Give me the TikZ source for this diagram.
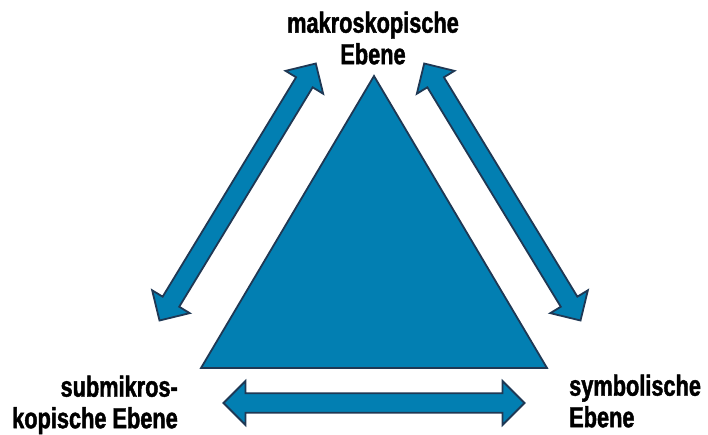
\documentclass[tikz,border=0pt]{standalone}
\usepackage{fontspec}
\newfontfamily\levelfont[FakeStretch=0.75, FakeBold=1.5]{Liberation Sans}
\usetikzlibrary{calc}
\definecolor{triblue}{RGB}{2,127,178}
\definecolor{edgenavy}{RGB}{31,56,84}
\tikzset{
  shapefill/.style={fill=triblue, draw=edgenavy, line width=1.8pt, line join=miter},
  levellabel/.style={font=\levelfont\bfseries\fontsize{29}{31.5}\selectfont, inner sep=0pt, text=black},
}
% double-headed block arrow between two named tip coordinates
% head length 22pt, head half-width 22pt, shaft half-width 9.7pt
\newcommand\dblblockarrow[3]{%
  \coordinate (#1-a) at #2;
  \coordinate (#1-b) at #3;
  \coordinate (#1-ha) at ($(#1-a)!22pt!(#1-b)$);
  \coordinate (#1-hb) at ($(#1-b)!22pt!(#1-a)$);
  \path[shapefill] (#1-a)
    -- ($(#1-ha)!22pt!90:(#1-b)$) -- ($(#1-ha)!9.7pt!90:(#1-b)$)
    -- ($(#1-hb)!9.7pt!-90:(#1-a)$) -- ($(#1-hb)!22pt!-90:(#1-a)$)
    -- (#1-b)
    -- ($(#1-hb)!22pt!90:(#1-a)$) -- ($(#1-hb)!9.7pt!90:(#1-a)$)
    -- ($(#1-ha)!9.7pt!-90:(#1-b)$) -- ($(#1-ha)!22pt!-90:(#1-b)$)
    -- cycle;
}
\begin{document}
\begin{tikzpicture}[x=1pt, y=-1pt]
  \useasboundingbox (0,0) rectangle (708,434);

  % central triangle
  \coordinate (apex) at (374,76);
  \coordinate (baseL) at (201,368);
  \coordinate (baseR) at (547,368);
  \path[shapefill] (apex) -- (baseR) -- (baseL) -- cycle;

  % the three levels
  \node[levellabel, align=center, anchor=north] (makro) at (373,11.5)
    {makroskopische\\Ebene};
  \node[levellabel, align=right, anchor=north east] (submikro) at (178,375.5)
    {submikros-\\kopische Ebene};
  \node[levellabel, align=left, anchor=north west] (symbol) at (569,374.5)
    {symbolische\\Ebene};

  % links between the levels
  \dblblockarrow{left}{(159.5,320.5)}{(315.8,63.5)}
  \dblblockarrow{right}{(424.2,63.5)}{(580.5,320.5)}
  \dblblockarrow{bottom}{(223.5,403)}{(524.5,403)}
\end{tikzpicture}
\end{document}
